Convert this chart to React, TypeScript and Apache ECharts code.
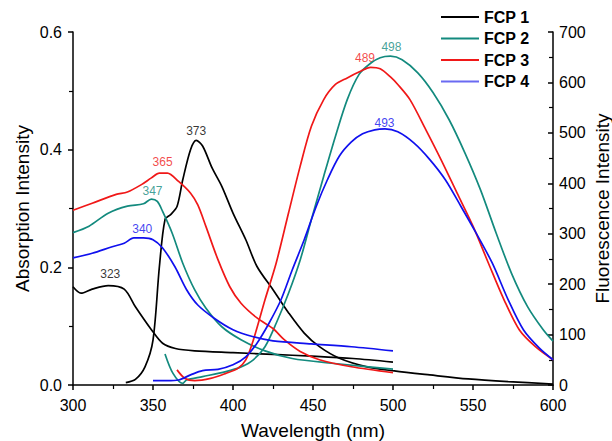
import React, { useEffect, useRef } from "react";
import * as echarts from "echarts";

// Absorption spectra (left axis) : [wavelength nm, absorbance]
const absFCP1: number[][] = [
  [300, 0.167], [305, 0.156], [312, 0.163], [322, 0.169], [332, 0.163], [339, 0.133],
  [349, 0.094], [356, 0.071], [364, 0.062], [376, 0.058], [400, 0.055], [425, 0.052],
  [449, 0.049], [475, 0.045], [500, 0.039],
];
const absFCP2: number[][] = [
  [300, 0.259], [310, 0.27], [322, 0.292], [334, 0.304], [344, 0.308], [349, 0.316],
  [352.7, 0.312], [356, 0.295], [362, 0.258], [368.6, 0.207], [376, 0.162], [383, 0.131],
  [393, 0.099], [405, 0.077], [420, 0.058], [437, 0.045], [461.6, 0.037], [500, 0.027],
];
const absFCP3: number[][] = [
  [300, 0.297], [312, 0.309], [327, 0.324], [334, 0.328], [343, 0.341], [349, 0.352],
  [354, 0.36], [359, 0.36], [366, 0.346], [373.5, 0.326], [378, 0.306], [383, 0.27],
  [390.6, 0.213], [398, 0.167], [405, 0.139], [415, 0.114], [425, 0.096], [432, 0.077],
  [442, 0.057], [454, 0.043], [474, 0.031], [500, 0.021],
];
const absFCP4: number[][] = [
  [300, 0.216], [312, 0.224], [324.5, 0.235], [332, 0.241], [338, 0.25], [344, 0.25],
  [350, 0.247], [356, 0.233], [363.7, 0.201], [371, 0.162], [378, 0.136], [388, 0.114],
  [400, 0.094], [412.7, 0.082], [425, 0.075], [449, 0.07], [474, 0.065], [500, 0.058],
];

// Fluorescence spectra (right axis) : [wavelength nm, intensity]
const fluFCP1: number[][] = [
  [333, 4.6], [339, 11], [345, 36], [350, 89], [354, 235], [357.5, 328], [361, 338],
  [365, 354], [368.6, 407], [373.5, 467], [377, 485], [381, 474], [387, 430], [393, 394],
  [400, 341], [408, 288], [415, 235], [425, 189], [435, 142], [444.5, 103], [454, 76],
  [466.5, 53], [483.7, 36], [500.8, 28], [523, 20], [547, 12], [572, 6.6], [600, 2],
];
const fluFCP2: number[][] = [
  [357.5, 61.6], [362.5, 23], [368.6, 3.3], [371, 10], [381, 16.6], [395.5, 26.5],
  [405, 36], [412.7, 50], [420, 76], [427, 122.5], [434.7, 182], [442, 248], [449, 328],
  [456.7, 414], [464, 493], [471.4, 566], [478.8, 616], [486, 638], [492, 649],
  [498.4, 652], [505.7, 645], [515.5, 619], [525, 580], [535, 526.5], [545, 460],
  [554.7, 387], [564.5, 301], [574, 222], [584, 156], [594, 109], [600, 87],
];
const fluFCP3: number[][] = [
  [365, 30], [370, 13], [376, 8.6], [386, 13], [395.5, 23], [403, 33], [408, 50],
  [412.7, 89], [420, 169], [427, 242], [434.7, 341], [442, 434], [449, 513], [456.7, 566],
  [464, 596], [471.4, 609], [479, 621], [486, 630], [492, 627], [498.4, 611], [503, 596],
  [510.6, 566], [520.4, 507], [530, 447], [540, 381], [550, 315], [559.6, 242],
  [569.4, 169], [579, 109], [589, 76], [600, 50],
];
const fluFCP4: number[][] = [
  [350, 8.6], [358.8, 8.6], [366, 10], [373.5, 20], [381, 28.5], [390.6, 31], [400, 40],
  [408, 56], [415, 83], [422.5, 122.5], [430, 169], [437, 228], [444.5, 288], [452, 354],
  [459, 407], [466.5, 454], [474, 482], [481, 498], [488.6, 506], [495, 508], [503, 502],
  [513, 480], [523, 447], [532.7, 407], [542.5, 354], [552, 301], [562, 242], [572, 169],
  [581.6, 109], [591.5, 73], [600, 50],
];

// Peak annotations : [x nm, y (absorbance scale), text, colour]
const peakLabels: [number, number, string, string][] = [
  [323.3, 0.188, "323", "#000000"],
  [377, 0.431, "373", "#000000"],
  [356, 0.379, "365", "#f01818"],
  [349.7, 0.329, "347", "#138a7e"],
  [343.3, 0.265, "340", "#1010ee"],
  [499, 0.575, "498", "#138a7e"],
  [482.5, 0.556, "489", "#f01818"],
  [494.7, 0.446, "493", "#1010ee"],
];

const seriesNames = ["FCP 1", "FCP 2", "FCP 3", "FCP 4"];
const colors = ["#000000", "#138a7e", "#f01818", "#1010ee"];
const legendColors = ["#000000", "#138a7e", "#f01818", "#6a6af2"];
const absData = [absFCP1, absFCP2, absFCP3, absFCP4];
const fluData = [fluFCP1, fluFCP2, fluFCP3, fluFCP4];

const FONT = 'Arial, "Liberation Sans", sans-serif';

export default function App() {
  const ref = useRef<HTMLDivElement>(null);
  useEffect(() => {
    if (!ref.current) return;
    const chart = echarts.init(ref.current, undefined, { renderer: "svg" });
    const lineSeries: any[] = [];
    seriesNames.forEach((name, i) => {
      const lw = 1.7;
      lineSeries.push({
        name,
        type: "line",
        xAxisIndex: 0,
        yAxisIndex: 0,
        data: absData[i],
        symbol: "none",
        smooth: 0.3,
        lineStyle: { color: colors[i], width: lw },
        itemStyle: { color: colors[i] },
      });
      lineSeries.push({
        name,
        type: "line",
        xAxisIndex: 0,
        yAxisIndex: 1,
        data: fluData[i],
        symbol: "none",
        smooth: 0.3,
        lineStyle: { color: colors[i], width: lw },
        itemStyle: { color: colors[i] },
      });
    });
    lineSeries.push({
      type: "scatter",
      xAxisIndex: 0,
      yAxisIndex: 0,
      symbolSize: 0,
      silent: true,
      data: peakLabels.map((p) => ({
        value: [p[0], p[1]],
        label: {
          show: true,
          position: "inside",
          formatter: p[2],
          color: p[3],
          fontSize: 12,
          fontFamily: FONT,
        },
      })),
    });

    const axisLine = { show: true, lineStyle: { color: "#000", width: 1.5 } };
    chart.setOption({
      animation: false,
      backgroundColor: "#fff",
      grid: { left: 73, right: 59, top: 32, bottom: 56, containLabel: false, outerBoundsMode: "none" },
      legend: {
        data: seriesNames.map((n, i) => ({
          name: n,
          icon: "rect",
          itemStyle: { color: legendColors[i], borderWidth: 0 },
        })),
        orient: "vertical",
        left: 441,
        top: 9,
        padding: 0,
        itemWidth: 38,
        itemHeight: 2,
        itemGap: 5.5,
        textStyle: { fontSize: 16, fontWeight: "bold", fontFamily: FONT, color: "#000", lineHeight: 16 },
        selectedMode: false,
      },
      xAxis: {
        type: "value",
        min: 300,
        max: 600,
        interval: 50,
        name: "Wavelength (nm)",
        nameLocation: "middle",
        nameGap: 36,
        nameMoveOverlap: false,
        nameTextStyle: { fontSize: 19, fontFamily: FONT, color: "#000" },
        axisLine,
        axisTick: { show: true, length: 5, lineStyle: { color: "#000", width: 1.5 } },
        minorTick: { show: true, splitNumber: 2, length: 4, lineStyle: { color: "#000", width: 1.2 } },
        axisLabel: { fontSize: 16, fontFamily: FONT, color: "#000", margin: 12 },
        splitLine: { show: false },
      },
      yAxis: [
        {
          type: "value",
          min: 0,
          max: 0.6,
          interval: 0.2,
          position: "left",
          name: "Absorption Intensity",
          nameLocation: "middle",
          nameGap: 41,
          nameMoveOverlap: false,
          nameRotate: 90,
          nameTextStyle: { fontSize: 19, fontFamily: FONT, color: "#000" },
          axisLine,
          axisTick: { show: true, length: 5, lineStyle: { color: "#000", width: 1.5 } },
          minorTick: { show: true, splitNumber: 2, length: 4, lineStyle: { color: "#000", width: 1.2 } },
          axisLabel: { fontSize: 16, fontFamily: FONT, color: "#000", margin: 11, formatter: (v: number) => v.toFixed(1) },
          splitLine: { show: false },
        },
        {
          type: "value",
          min: 0,
          max: 700,
          interval: 100,
          position: "right",
          name: "Fluorescence Intensity",
          nameLocation: "middle",
          nameGap: 40,
          nameMoveOverlap: false,
          nameRotate: 90,
          nameTextStyle: { fontSize: 19, fontFamily: FONT, color: "#000" },
          axisLine,
          axisTick: { show: true, inside: true, length: 5, lineStyle: { color: "#000", width: 1.5 } },
          minorTick: { show: true, splitNumber: 2, length: 4, lineStyle: { color: "#000", width: 1.2 } },
          axisLabel: { fontSize: 16, fontFamily: FONT, color: "#000", margin: 6 },
          splitLine: { show: false },
        },
      ],
      series: lineSeries,
    });
    return () => chart.dispose();
  }, []);
  return <div ref={ref} style={{ width: 612, height: 441, position: "absolute", left: 0, top: 0 }} />;
}
